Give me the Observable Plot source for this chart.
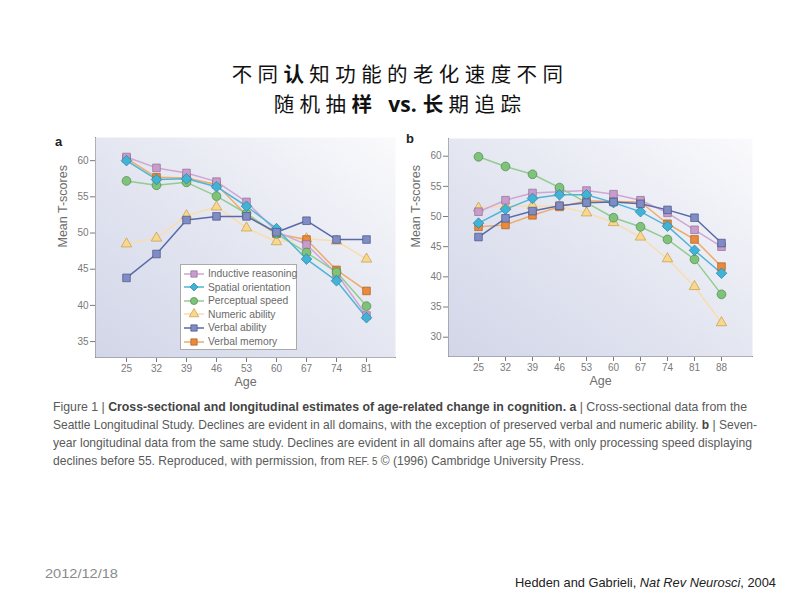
<!DOCTYPE html>
<html>
<head>
<meta charset="utf-8">
<script src="https://cdn.jsdelivr.net/npm/d3@7"></script>
<script src="https://cdn.jsdelivr.net/npm/@observablehq/plot@0.6"></script>
<style>
  html, body { margin: 0; padding: 0; background: #fff; }
  #page { position: relative; width: 800px; height: 600px; overflow: hidden; font-family: "Liberation Sans", Arial, sans-serif; }
  .abs { position: absolute; }
  .title { left: 0; width: 800px; text-align: center; font-family: "Noto Sans CJK SC", sans-serif; font-size: 20.5px; color: #111; letter-spacing: 5.4px; line-height: 22px; height: 22px; }
  .title b { font-weight: 700; }
  .title .latin { letter-spacing: 0; font-family: "Open Sans", "Noto Sans", sans-serif; font-size: 21px; margin: 0 6px 0 1px; }
  .panel-letter { font-weight: bold; font-size: 13px; color: #222; }
  .caption { left: 53px; font-family: "Liberation Sans", sans-serif; font-size: 13px; color: #5a5a5a; white-space: nowrap; line-height: 16px; height: 16px; transform-origin: 0 50%; }
  .caption b { color: #444; }
  .fit { white-space: nowrap; transform-origin: 0 50%; }
  .legend { left: 180px; top: 264px; width: 117px; height: 86px; background: #fff; border: 1px solid #aaa; box-sizing: border-box; }
  .legend .row { position: absolute; left: 2px; height: 13px; display: flex; align-items: center; font-size: 10.3px; color: #6a6a6a; white-space: nowrap; }
  .legend svg { margin-right: 3px; }
</style>
</head>
<body>
<div id="page">
  <div class="abs title" style="top:62px">不同<b>认</b>知功能的老化速度不同</div>
  <div class="abs title" style="top:92px">随机抽<b>样</b> <b class="latin">vs.</b><b>长</b>期追踪</div>
  <div class="abs panel-letter" style="left:55px; top:134px">a</div>
  <div class="abs panel-letter" style="left:406px; top:131px">b</div>
  <div id="plotA" class="abs" style="left:50px; top:130px"></div>
  <div id="plotB" class="abs" style="left:400px; top:130px"></div>
  <div id="legend" class="abs legend"></div>
  <div class="abs caption" data-w="694" style="top:399px">Figure 1 | <b>Cross-sectional and longitudinal estimates of age-related change in cognition. a</b> | Cross-sectional data from the</div>
  <div class="abs caption" data-w="704" style="top:417px">Seattle Longitudinal Study. Declines are evident in all domains, with the exception of preserved verbal and numeric ability. <b>b</b> | Seven-</div>
  <div class="abs caption" data-w="699" style="top:435px">year longitudinal data from the same study. Declines are evident in all domains after age 55, with only processing speed displaying</div>
  <div class="abs caption" data-w="531" style="top:453px">declines before 55. Reproduced, with permission, from <span style="font-size:10.5px">REF. 5</span> © (1996) Cambridge University Press.</div>
  <div class="abs fit" data-w="73" style="left:45px; top:566px; font-size:13px; color:#8a8a8a;">2012/12/18</div>
  <div class="abs fit" data-w="261" style="left:515px; top:575px; font-size:13.5px; color:#222;">Hedden and Gabrieli, <i>Nat Rev Neurosci</i>, 2004</div>
</div>
<script>
// ---- Data ----
const agesA = [25, 32, 39, 46, 53, 60, 67, 74, 81];
const agesB = [25, 32, 39, 46, 53, 60, 67, 74, 81, 88];
const seriesNames = ["Inductive reasoning", "Spatial orientation", "Perceptual speed", "Numeric ability", "Verbal ability", "Verbal memory"];

// Panel a: cross-sectional
const inductiveA      = [60.5, 59.0, 58.3, 57.1, 54.3, 50.2, 48.4, 44.4, 38.6];
const spatialA        = [60.0, 57.4, 57.5, 56.4, 53.7, 50.6, 46.4, 43.4, 38.3];
const perceptualA     = [57.2, 56.6, 57.0, 55.1, 52.7, 49.9, 47.3, 44.6, 39.9];
const numericA        = [48.5, 49.3, 52.4, 53.6, 50.7, 48.8, 49.2, 48.9, 46.4];
const verbalAbilityA  = [43.8, 47.1, 51.8, 52.3, 52.3, 50.1, 51.7, 49.1, 49.1];
const verbalMemoryA   = [60.3, 57.7, 57.6, 56.7, 52.5, 49.9, 49.1, 44.9, 42.0];

// Panel b: longitudinal
const inductiveB      = [50.8, 52.7, 53.9, 54.1, 54.3, 53.7, 52.7, 50.6, 47.8, 45.0];
const spatialB        = [48.9, 51.2, 53.0, 53.6, 53.6, 52.3, 50.8, 48.4, 44.4, 40.6];
const perceptualB     = [59.9, 58.3, 57.0, 54.8, 52.3, 49.8, 48.3, 46.2, 42.9, 37.1];
const numericB        = [51.4, 51.7, 51.8, 51.7, 50.6, 49.0, 46.6, 43.0, 38.4, 32.4];
const verbalAbilityB  = [46.6, 49.7, 50.9, 51.8, 52.3, 52.4, 52.1, 51.1, 49.8, 45.6];
const verbalMemoryB   = [48.3, 48.6, 50.2, 51.6, 52.6, 52.5, 52.4, 48.8, 46.2, 41.7];

const yTicksA = [35, 40, 45, 50, 55, 60];
const yTicksB = [30, 35, 40, 45, 50, 55, 60];

// ---- Styles ----
const fills   = ["#c99dcb", "#40b3d6", "#7fc27a", "#f7d88f", "#7f8cc6", "#ec8a3c"];
const lines   = ["#d0a6d2", "#4fb5d5", "#92cc8f", "#f8ddae", "#5a6aa6", "#eeab6c"];
const strokes = ["#8e6e96", "#2a7fa0", "#4d8a4c", "#c99a45", "#4a5584", "#a85e22"];
const symbols = ["square", "diamond2", "circle", "triangle", "square", "square"];
const radii   = [4.3, 4.8, 4.4, 3.9, 4.3, 4.3];
const drawOrder = [3, 5, 0, 2, 1, 4];

function table(ages, arrays) {
  return arrays.map((vals, i) => ages.map((age, j) => ({age, value: vals[j], series: seriesNames[i]})));
}

function makePlot({ages, arrays, width, height, margins, xRange, yDomain, yTicks, gradId}) {
  const data = table(ages, arrays);
  const marks = [
    Plot.frame({fill: `url(#${gradId})`, stroke: null}),
    Plot.text(["Age"], {frameAnchor: "bottom", dy: 28, fontSize: 12.5, fill: "#6e6e6e"}),
    Plot.text(["Mean T-scores"], {frameAnchor: "left", rotate: -90, dx: -33, fontSize: 12.5, fill: "#6e6e6e"})
  ];
  for (const i of drawOrder) {
    marks.push(Plot.line(data[i], {x: "age", y: "value", stroke: lines[i], strokeWidth: 1.5}));
  }
  for (const i of drawOrder) {
    marks.push(Plot.dot(data[i], {x: "age", y: "value", symbol: symbols[i], r: radii[i], fill: fills[i], stroke: strokes[i], strokeWidth: 0.7}));
  }
  const svg = Plot.plot({
    width, height,
    marginLeft: margins[0], marginRight: margins[1], marginTop: margins[2], marginBottom: margins[3],
    style: {background: "transparent", fontSize: "10px", fontFamily: "Liberation Sans, Arial, sans-serif", color: "#7a7a7a", overflow: "visible"},
    x: {type: "point", domain: ages, range: xRange, label: null, tickSize: 5, tickPadding: 2, line: true},
    y: {domain: yDomain, ticks: yTicks, label: null, tickSize: 5, tickPadding: 2, line: true},
    marks
  });
  const defs = d3.select(svg).insert("defs", ":first-child");
  const g = defs.append("linearGradient").attr("id", gradId)
    .attr("x1", "0").attr("y1", "1").attr("x2", "1").attr("y2", "0");
  g.append("stop").attr("offset", "0%").attr("stop-color", "#d2d6e8");
  g.append("stop").attr("offset", "55%").attr("stop-color", "#e6e8f2");
  g.append("stop").attr("offset", "100%").attr("stop-color", "#fafafc");
  return svg;
}

document.getElementById("plotA").appendChild(makePlot({
  ages: agesA,
  arrays: [inductiveA, spatialA, perceptualA, numericA, verbalAbilityA, verbalMemoryA],
  width: 347, height: 270, margins: [45, 2, 7, 43],
  xRange: [61, 331], yDomain: [32.8, 63.2], yTicks: yTicksA, gradId: "gradA"
}));
document.getElementById("plotB").appendChild(makePlot({
  ages: agesB,
  arrays: [inductiveB, spatialB, perceptualB, numericB, verbalAbilityB, verbalMemoryB],
  width: 352, height: 270, margins: [48, 0, 8, 44],
  xRange: [62, 337.7], yDomain: [26.8, 62.93], yTicks: yTicksB, gradId: "gradB"
}));

// ---- Legend (panel a) ----
const legend = document.getElementById("legend");
const rowTops = [2, 15.6, 29.2, 42.8, 56.4, 70];
const symbolFns = {square: d3.symbolSquare, diamond2: d3.symbolDiamond2, circle: d3.symbolCircle, triangle: d3.symbolTriangle};
seriesNames.forEach((name, i) => {
  const row = document.createElement("div");
  row.className = "row";
  row.style.top = rowTops[i] + "px";
  const sw = d3.create("svg").attr("width", 22).attr("height", 12);
  sw.append("line").attr("x1", 1).attr("x2", 21).attr("y1", 6).attr("y2", 6).attr("stroke", lines[i]).attr("stroke-width", 1.5);
  sw.append("path").attr("transform", "translate(11,6)")
    .attr("d", d3.symbol(symbolFns[symbols[i]], 40)())
    .attr("fill", fills[i]).attr("stroke", strokes[i]).attr("stroke-width", 0.7);
  row.appendChild(sw.node());
  const t = document.createElement("span");
  t.textContent = name;
  row.appendChild(t);
  legend.appendChild(row);
});

// ---- Fit condensed text lines to their widths ----
document.querySelectorAll("[data-w]").forEach(el => {
  el.style.display = "inline-block";
  const w = el.getBoundingClientRect().width;
  const target = +el.dataset.w;
  el.style.transform = `scaleX(${target / w})`;
});
</script>
</body>
</html>
